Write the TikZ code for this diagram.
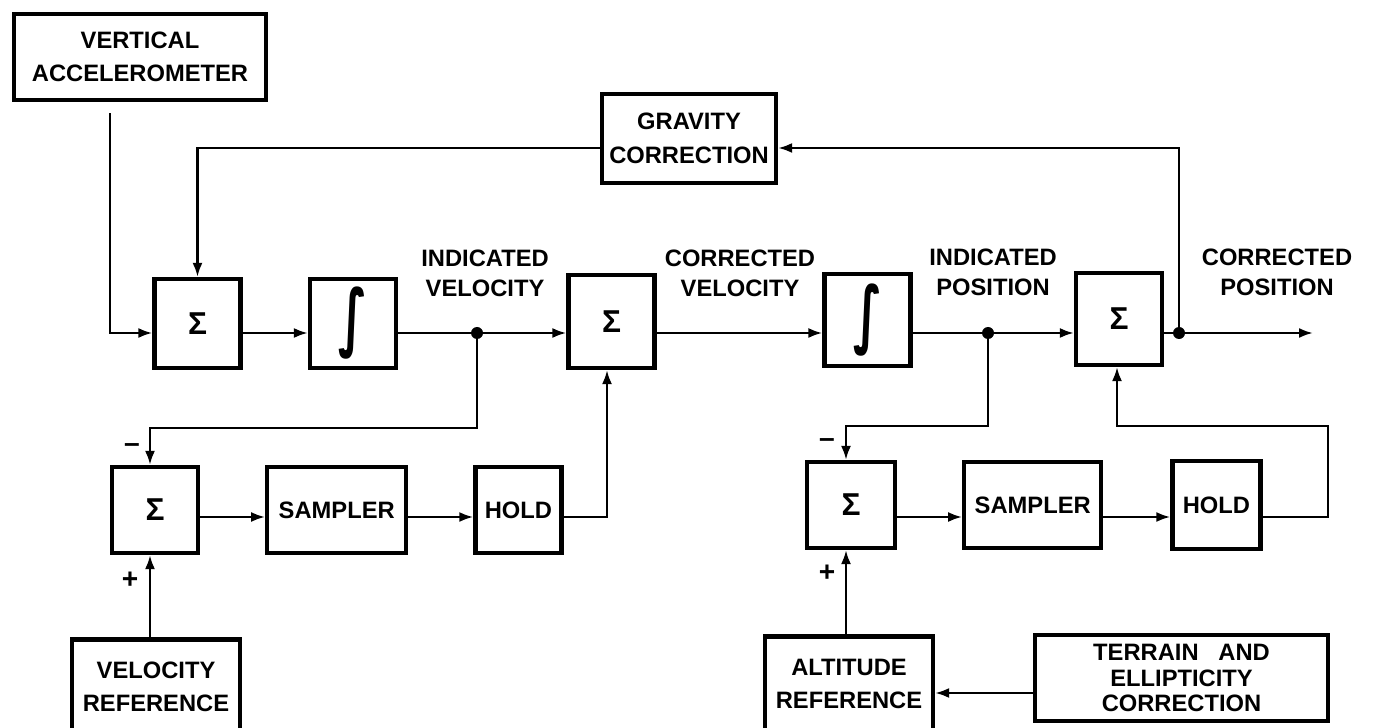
\documentclass[tikz,border=0pt]{standalone}
\usepackage{fontspec}
\setmainfont{Liberation Sans}
\newfontfamily\symfont{DejaVu Sans}
\usetikzlibrary{arrows.meta,positioning}
\newcommand{\ym}{-6.66}   % main signal line
\newcommand{\yb}{-10.34}  % sampler rows
\newcommand{\yg}{-2.96}   % gravity loop
\newcommand{\intg}{\scalebox{0.9}[1.4]{\symfont\bfseries\fontsize{30}{30}\selectfont ∫}}

\begin{document}
\begin{tikzpicture}[
  font=\bfseries\fontsize{13.5}{19}\selectfont,
  blk/.style={draw, line width=2.4pt, align=center, inner sep=2pt,
              minimum width=1.72cm, minimum height=1.78cm},
  sig/.style={blk, font=\bfseries\fontsize{18}{18}\selectfont},
  flow/.style={-{Latex[length=2.8mm,width=2mm]}, line width=1.4pt},
  jn/.style={circle, fill, inner sep=0pt, minimum size=2.4mm},
  lbl/.style={align=center, inner sep=0pt, font=\bfseries\fontsize{13.5}{17}\selectfont},
  sgn/.style={inner sep=0pt, font=\bfseries\fontsize{16}{16}\selectfont},
]
\useasboundingbox (0,0) rectangle (27.46,-14.56);

%============================ MAIN CHAIN ============================
\node[blk, minimum width=5.04cm, minimum height=1.72cm] (acc) at (2.80,-1.14) {VERTICAL\\ACCELEROMETER};
\node[blk, minimum width=3.48cm, minimum height=1.78cm] (grav) at (13.78,-2.77) {GRAVITY\\CORRECTION};

\node[sig] (s1) at (3.95,-6.47) {Σ};
\node[blk] (i1) at (7.06,-6.47) {\intg};
\node[sig, minimum height=1.86cm] (s2) at (12.23,-6.43) {Σ};
\node[blk, minimum height=1.84cm] (i2) at (17.35,-6.40) {\intg};
\node[sig, minimum height=1.84cm] (s3) at (22.38,-6.38) {Σ};

\node[jn] (j1) at (9.54,\ym) {};
\node[jn] (j2) at (19.76,\ym) {};
\node[jn] (j3) at (23.58,\ym) {};
\coordinate (out) at (26.26,\ym);

\node[lbl] (lv1) at (9.70,-5.46)  {INDICATED\\VELOCITY};
\node[lbl] (lv2) at (14.80,-5.46) {CORRECTED\\VELOCITY};
\node[lbl] (lp1) at (19.86,-5.44) {INDICATED\\POSITION};
\node[lbl] (lp2) at (25.54,-5.44) {CORRECTED\\POSITION};

\draw[flow, shorten <=2.2mm] (acc.south -| 2.2,0) |- (s1.west |- 0,\ym);
\foreach \a/\b in {s1/i1, i1/s2, s2/i2, i2/s3}
  \draw[flow] (\a.east |- 0,\ym) -- (\b.west |- 0,\ym);
\draw[flow] (s3.east |- 0,\ym) -- (out);

% gravity loop
\draw[flow] (j3.center) |- (grav.east |- 0,\yg);
\draw[flow] (grav.west |- 0,\yg) -| (s1.north);

%============================ VELOCITY RESET ============================
\node[sig, minimum height=1.72cm] (s4) at (3.10,-10.20) {Σ};
\node[blk, minimum width=2.78cm, minimum height=1.72cm, right=1.3cm of s4] (smp1) {SAMPLER};
\node[blk, minimum height=1.72cm, right=1.3cm of smp1] (hld1) {HOLD};
\node[blk, minimum width=3.36cm, minimum height=1.9cm] (vref) at (3.12,-13.74) {VELOCITY\\REFERENCE};

\node[sgn] (m4) at (2.64,-8.96) {–};
\node[sgn] (p4) at (2.60,-11.60) {+};

\draw[flow] (j1.center) |- (3.0,-8.56) -- (s4.north -| 3.0,0);
\draw[flow] (hld1.east |- 0,\yb) -| (s2.south -| 12.14,0);
\draw[flow] (vref.north -| 3.0,0) -- (s4.south -| 3.0,0);

%============================ POSITION RESET ============================
\node[sig, minimum width=1.76cm, minimum height=1.72cm] (s5) at (17.02,-10.10) {Σ};
\node[blk, minimum width=2.74cm, minimum height=1.72cm, right=1.3cm of s5] (smp2) {SAMPLER};
\node[blk, minimum width=1.76cm, minimum height=1.76cm, right=1.34cm of smp2] (hld2) {HOLD};
\node[blk, minimum width=3.36cm, minimum height=1.9cm] (aref) at (16.98,-13.68) {ALTITUDE\\REFERENCE};
\node[blk, minimum width=5.86cm, minimum height=1.72cm,
      font=\bfseries\fontsize{13.5}{14.5}\selectfont] (terr) at (23.63,-13.56)
  {TERRAIN~~~AND\\ELLIPTICITY\\CORRECTION};

\node[sgn] (m5) at (16.54,-8.86) {–};
\node[sgn] (p5) at (16.54,-11.46) {+};

\foreach \a/\b in {s4/smp1, smp1/hld1, s5/smp2, smp2/hld2}
  \draw[flow] (\a.east |- 0,\yb) -- (\b.west |- 0,\yb);

\draw[flow] (j2.center) |- (16.92,-8.52) -- (s5.north -| 16.92,0);
\draw[flow] (hld2.east |- 0,\yb) -| (26.56,-8.52) -| (s3.south -| 22.34,0);
\draw[flow] (aref.north -| 16.92,0) -- (s5.south -| 16.92,0);
\draw[flow] (terr.west |- 0,-13.86) -- (aref.east |- 0,-13.86);

\end{tikzpicture}
\end{document}
